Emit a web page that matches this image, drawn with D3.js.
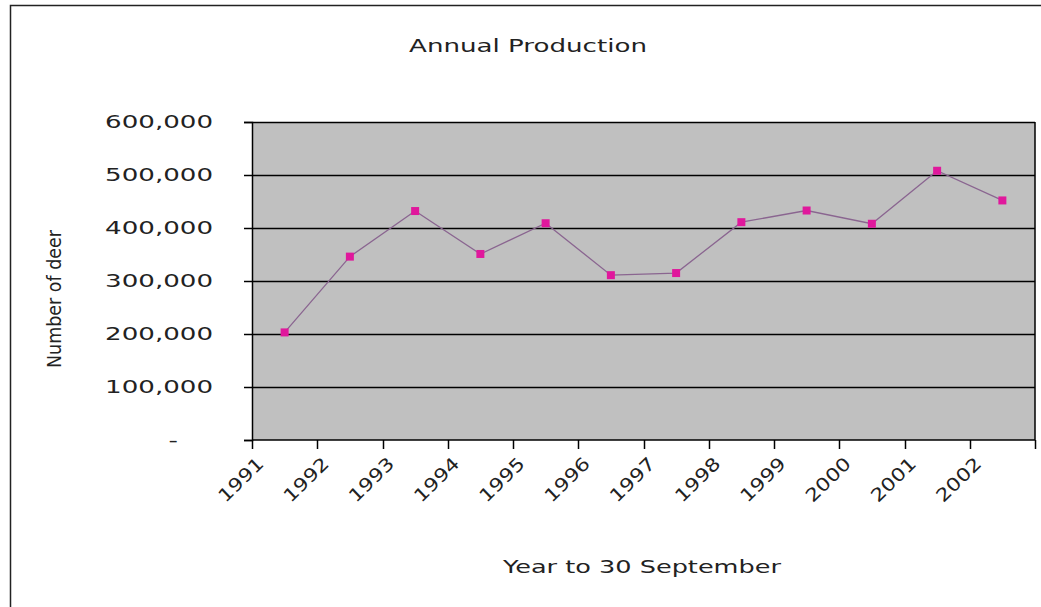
<!DOCTYPE html>
<html>
<head>
<meta charset="utf-8">
<script src="https://cdnjs.cloudflare.com/ajax/libs/d3/7.8.5/d3.min.js"></script>
<style>
  body { margin: 0; background: #fff; }
  svg text { font-family: "DejaVu Sans", Verdana, sans-serif; fill: #222; }
</style>
</head>
<body>
<svg width="1041" height="607"></svg>
<script>
// chart data
var years = ["1991", "1992", "1993", "1994", "1995", "1996",
             "1997", "1998", "1999", "2000", "2001", "2002"];
var deer = [203000, 346000, 432000, 351000, 409000, 311000,
            315000, 411000, 433000, 408000, 508000, 452000];
var yTicks = [0, 100000, 200000, 300000, 400000, 500000, 600000];

var svg = d3.select("svg"),
    margin = {top: 122, right: 6, bottom: 167, left: 252},
    width = 1041 - margin.left - margin.right,
    height = 607 - margin.top - margin.bottom;

// text in the original is wider than DejaVu, stretch it horizontally
function stretch(sel, k) {
    sel.each(function() {
        var w = this.getComputedTextLength();
        d3.select(this).attr("textLength", w * k).attr("lengthAdjust", "spacingAndGlyphs");
    });
}

// outer chart border
svg.append("rect")
    .attr("x", 10.5).attr("y", 5.5)
    .attr("width", 1041).attr("height", 607)
    .attr("fill", "none").attr("stroke", "#222").attr("stroke-width", 1.5);

var x = d3.scaleBand().domain(years).range([0, width]),
    y = d3.scaleLinear().domain([0, 600000]).range([height, 0]);

var g = svg.append("g")
    .attr("transform", "translate(" + margin.left + "," + margin.top + ")");

g.append("rect")
    .attr("width", width).attr("height", height)
    .attr("fill", "#c0c0c0");

// gridlines
g.selectAll(".grid")
    .data(yTicks.slice(1))
    .enter().append("line")
        .attr("class", "grid")
        .attr("x1", 0).attr("x2", width)
        .attr("y1", function(d) { return Math.round(y(d)) + 0.5; })
        .attr("y2", function(d) { return Math.round(y(d)) + 0.5; })
        .attr("stroke", "#000").attr("stroke-width", 1.5);

// right-hand edge of plot
g.append("line")
    .attr("x1", width).attr("x2", width)
    .attr("y1", 0).attr("y2", height)
    .attr("stroke", "#000").attr("stroke-width", 1.5);

var yAxis = d3.axisLeft(y)
    .tickValues(yTicks)
    .tickSize(8)
    .tickPadding(31)
    .tickFormat(function(d) { return d === 0 ? "-" : d3.format(",")(d); });

var ya = g.append("g")
    .attr("class", "y axis")
    .call(yAxis);
ya.select(".domain").attr("stroke", "#000").attr("stroke-width", 1.5);
ya.selectAll(".tick line").attr("stroke", "#000").attr("stroke-width", 1.5);
ya.selectAll(".tick text")
    .attr("font-size", 18)
    .attr("fill", "#222")
    .call(stretch, 1.45);
ya.selectAll(".tick text").filter(function(d) { return d === 0; })
    .attr("dx", -35);

// x axis: ticks on band boundaries
var xa = g.append("g")
    .attr("class", "x axis")
    .attr("transform", "translate(0," + height + ")");
xa.append("line")
    .attr("x1", 0).attr("x2", width)
    .attr("stroke", "#000").attr("stroke-width", 1.5);
xa.selectAll(".xtick")
    .data(years.concat(["end"]))
    .enter().append("line")
        .attr("class", "xtick")
        .attr("x1", function(d, i) { return Math.round(i * x.step()) + 0.5; })
        .attr("x2", function(d, i) { return Math.round(i * x.step()) + 0.5; })
        .attr("y1", 0).attr("y2", 9)
        .attr("stroke", "#000").attr("stroke-width", 1.5);
xa.selectAll(".xlabel")
    .data(years)
    .enter().append("text")
        .attr("class", "xlabel")
        .attr("text-anchor", "end")
        .attr("font-size", 18)
        .attr("transform", function(d) {
            return "translate(" + (x(d) + 13) + ",25) rotate(-44)";
        })
        .text(function(d) { return d; })
        .call(stretch, 1.2);

// line and markers
var line = d3.line()
    .x(function(d, i) { return x(years[i]) + x.bandwidth() / 2; })
    .y(function(d) { return y(d); });

g.append("path")
    .datum(deer)
    .attr("fill", "none")
    .attr("stroke", "#8a6590")
    .attr("stroke-width", 1.3)
    .attr("d", line);

g.selectAll(".pt")
    .data(deer)
    .enter().append("rect")
        .attr("class", "pt")
        .attr("x", function(d, i) { return x(years[i]) + x.bandwidth() / 2 - 4; })
        .attr("y", function(d) { return y(d) - 4; })
        .attr("width", 8).attr("height", 8)
        .attr("fill", "#e0189c");

// titles
svg.append("text")
    .attr("x", 528).attr("y", 52)
    .attr("text-anchor", "middle")
    .attr("font-size", 18)
    .text("Annual Production")
    .call(stretch, 1.45);

svg.append("text")
    .attr("x", 642).attr("y", 573)
    .attr("text-anchor", "middle")
    .attr("font-size", 18)
    .text("Year to 30 September")
    .call(stretch, 1.42);

svg.append("text")
    .attr("transform", "translate(61,299) rotate(-90)")
    .attr("text-anchor", "middle")
    .attr("font-size", 19)
    .text("Number of deer")
    .call(stretch, 0.92);
</script>
</body>
</html>
